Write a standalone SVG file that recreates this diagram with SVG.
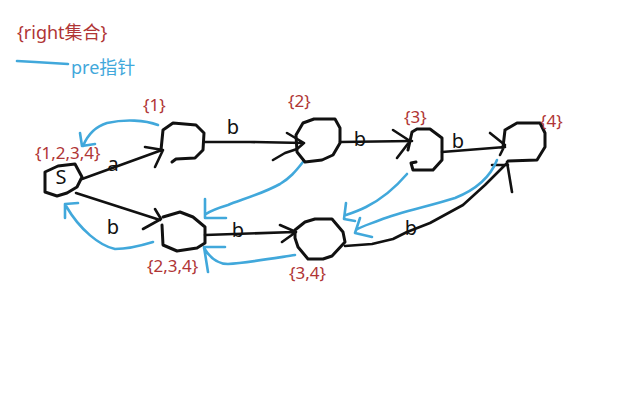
<svg xmlns="http://www.w3.org/2000/svg" width="640" height="400" viewBox="0 0 640 400">
<style>
.nd{fill:none;stroke:#111;stroke-width:3;stroke-linejoin:round;stroke-linecap:round}
.ed{fill:none;stroke:#111;stroke-width:2.6;stroke-linecap:round;stroke-linejoin:round}
.pre{fill:none;stroke:#41a8db;stroke-width:2.6;stroke-linecap:round;stroke-linejoin:round}
.set{font-family:"Noto Sans","Noto Sans CJK SC",sans-serif;font-size:17px;fill:#b03535}
.lbl{font-family:"Noto Sans","DejaVu Sans",sans-serif;font-size:20px;fill:#111}
.leg{font-family:"Noto Sans","Noto Sans CJK SC",sans-serif;font-size:18px;fill:#41a8db}
</style>
<rect width="640" height="400" fill="#fff"/>
<g id="legend">
<text class="set" x="17" y="39" style="font-size:18px">{right集合}</text>
<path class="pre" d="M17,61 L35,62 L68,64"/>
<text class="leg" x="71" y="74">pre指针</text>
</g>
<g id="connectors">
<path class="ed" d="M82,179 L162,150 M145,147 L163,150 L155,167"/>
<path class="ed" d="M76,193 L160,220 M155,209 L161,219 L143,229"/>
<path class="ed" d="M205,142 L250,142 L304,143 M287,133 L304,143 L297,149 L285,153 L273,160"/>
<path class="ed" d="M340,142 L412,141 M393,130 L410,141 L397,158"/>
<path class="ed" d="M442,152 L505,147 M490,133 L505,145 L500,155"/>
<path class="ed" d="M205,235 L294,232 M280,225 L296,232 L282,242"/>
<path class="ed" d="M345,246 L372,244 L393,239 L407,232 L430,223 L463,205 L485,185 L506,164 M492,165 L508,165 M507,162 L512,192"/>
<path class="pre" d="M158,125 C145,120 125,119 107,123 C97,126 88,134 83,146 M80,133 L82,146 L95,144"/>
<path class="pre" d="M153,242 C140,246 125,249 115,249 C100,246 80,230 66,206 M65,218 L65,204 L78,203"/>
<path class="pre" d="M303,162 C295,172 290,178 280,184 C262,194 240,200 228,205 C218,208 212,210 206,214 M205,199 L205,218 L226,218"/>
<path class="pre" d="M295,255 C275,258 245,263 228,264 C218,264 210,258 204,248 M225,247 L204,247 L208,272"/>
<path class="pre" d="M407,174 C395,188 380,200 366,207 C358,211 352,213 346,215 M346,203 L344,219 L355,221"/>
<path class="pre" d="M497,160 C490,178 475,190 455,198 C430,206 400,212 380,220 C370,224 362,226 356,230 M360,218 L355,233 L372,237"/>
</g>
<g id="S">
<path class="nd" d="M45,172 L58,166 L75,164 L82,177 L77,187 L67,193 L57,196 L45,192 Z"/>
<text class="lbl" x="61" y="184" text-anchor="middle">S</text>
<text class="set" x="35" y="159">{1,2,3,4}</text>
</g>
<g id="n1">
<path class="nd" d="M172,162 L176,159 L195,158 L203,150 L204,133 L196,125 L173,123 L163,130 L161,150"/>
<text class="set" x="143" y="111">{1}</text>
</g>
<g id="n2">
<path class="nd" d="M303,123 L314,119 L335,119 L340,128 L340,143 L333,155 L322,160 L305,162 L297,152 L296,135 Z"/>
<text class="set" x="288" y="107">{2}</text>
</g>
<g id="n3">
<path class="nd" d="M412,132 L417,129 L430,129 L442,138 L442,160 L433,170 L413,170 L411,163 L416,162 M412,132 L408,150"/>
<text class="set" x="404" y="123">{3}</text>
</g>
<g id="n4">
<path class="nd" d="M505,130 L517,123 L540,123 L545,133 L545,147 L537,160 L508,161 M505,130 L503,147"/>
<text class="set" x="540" y="127">{4}</text>
</g>
<g id="n5">
<path class="nd" d="M163,217 L180,212 L193,217 L205,227 L205,243 L197,248 L177,251 L163,245 L162,225"/>
<text class="set" x="147" y="272">{2,3,4}</text>
</g>
<g id="n6">
<path class="nd" d="M295,230 L305,222 L315,219 L332,219 L343,232 L345,242 L332,256 L323,259 L308,259 L298,247 L295,238 Z"/>
<text class="set" x="289" y="279">{3,4}</text>
</g>
<g id="edge-labels">
<text class="lbl" x="113" y="171" text-anchor="middle">a</text>
<text class="lbl" x="113" y="234" text-anchor="middle">b</text>
<text class="lbl" x="233" y="134" text-anchor="middle">b</text>
<text class="lbl" x="360" y="146" text-anchor="middle">b</text>
<text class="lbl" x="458" y="148" text-anchor="middle">b</text>
<text class="lbl" x="238" y="237" text-anchor="middle">b</text>
<text class="lbl" x="411" y="235" text-anchor="middle">b</text>
</g>
</svg>
